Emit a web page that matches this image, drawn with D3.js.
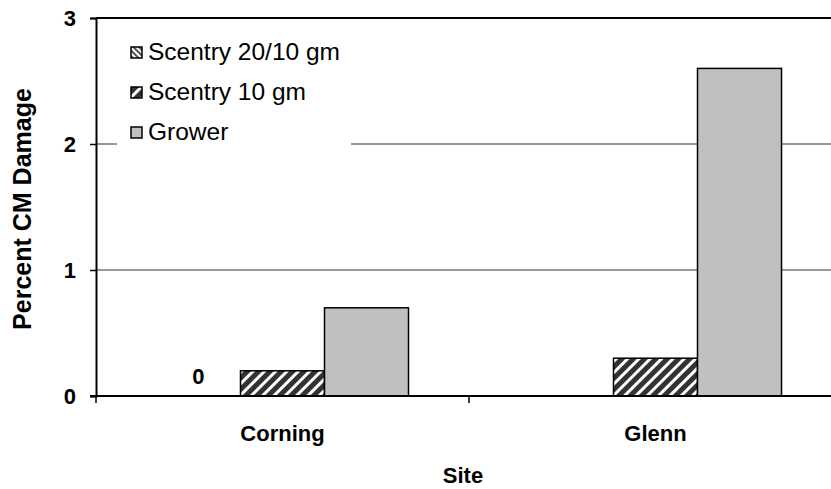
<!DOCTYPE html>
<html><head><meta charset="utf-8">
<script src="https://cdn.jsdelivr.net/npm/d3@7"></script>
<style>body{margin:0;background:#fff}svg{display:block}text{font-family:"Liberation Sans",Arial,sans-serif}</style>
</head><body>
<svg id="c" width="831" height="489"></svg>
<script>
const categories = ["Corning", "Glenn"];
const seriesNames = ["Scentry 20/10 gm", "Scentry 10 gm", "Grower"];
const scentry2010 = [0, null];
const scentry10 = [0.2, 0.3];
const grower = [0.7, 2.6];
const yTicks = [0, 1, 2, 3];
const seriesValues = [scentry2010, scentry10, grower];

const svg = d3.select("#c");
const defs = svg.append("defs");
const p1 = defs.append("pattern").attr("id","hatchFwd").attr("patternUnits","userSpaceOnUse")
  .attr("width",8).attr("height",8).attr("patternTransform","rotate(45)");
p1.append("rect").attr("width",8).attr("height",8).attr("fill","#333");
p1.append("rect").attr("x",0).attr("width",3).attr("height",8).attr("fill","#fff");
const p2 = defs.append("pattern").attr("id","hatchBack").attr("patternUnits","userSpaceOnUse")
  .attr("width",4).attr("height",4).attr("patternTransform","rotate(-45)");
p2.append("rect").attr("width",4).attr("height",4).attr("fill","#fff");
p2.append("rect").attr("width",2).attr("height",4).attr("fill","#555");
const fills = ["url(#hatchBack)", "url(#hatchFwd)", "#c0c0c0"];

const mLeft = 96, mRight = 842, mTop = 18, mBottom = 396;
const x0 = d3.scaleBand().domain(categories).range([mLeft, mRight]);
const x1 = d3.scaleBand().domain(seriesNames).range([0, x0.bandwidth()]).paddingOuter(0.72);
const y = d3.scaleLinear().domain([0, 3]).range([mBottom, mTop]);

// gridlines
svg.append("g").selectAll("line").data(yTicks.filter(d => d > 0)).join("line")
  .attr("x1", mLeft).attr("x2", 831).attr("y1", d => y(d)).attr("y2", d => y(d))
  .attr("stroke", d => d === 3 ? "#000" : "#333").attr("stroke-width", d => d === 3 ? 2 : 1);

// bars
const g = svg.append("g");
categories.forEach((c, ci) => {
  seriesNames.forEach((s, si) => {
    const v = seriesValues[si][ci];
    if (v === null || v === 0) return;
    g.append("rect").attr("x", x0(c) + x1(s)).attr("width", x1.bandwidth())
      .attr("y", y(v)).attr("height", y(0) - y(v))
      .attr("fill", fills[si]).attr("stroke", "#000").attr("stroke-width", 1.5);
  });
});
// zero label
categories.forEach((c, ci) => {
  const v = scentry2010[ci];
  if (v === 0) {
    svg.append("text").attr("x", x0(c) + x1(seriesNames[0]) + x1.bandwidth()/2)
      .attr("y", y(0) - 12).attr("text-anchor","middle")
      .attr("font-size", 22).attr("font-weight","bold").text(v);
  }
});

// y axis
const yAxis = d3.axisLeft(y).tickValues(yTicks).tickSize(6).tickPadding(14).tickFormat(d3.format("d"));
const ya = svg.append("g").attr("transform", `translate(${mLeft},0)`).call(yAxis);
ya.select(".domain").attr("stroke-width", 2);
ya.selectAll(".tick line").attr("stroke-width", 1.5);
ya.selectAll("text").attr("font-size", 22).attr("font-weight","bold").attr("font-family",'"Liberation Sans",Arial,sans-serif').attr("fill","#000");

// x axis
svg.append("line").attr("x1", mLeft - 6).attr("x2", 831).attr("y1", mBottom).attr("y2", mBottom)
  .attr("stroke","#000").attr("stroke-width",2);
const bounds = categories.map(c => x0(c)).concat([mRight]);
svg.append("g").selectAll("line").data(bounds.filter(b => b < 831)).join("line")
  .attr("x1", d => d).attr("x2", d => d).attr("y1", mBottom).attr("y2", mBottom + 7)
  .attr("stroke","#000").attr("stroke-width",1.5);
svg.append("g").selectAll("text").data(categories).join("text")
  .attr("x", d => x0(d) + x0.bandwidth()/2).attr("y", 441).attr("text-anchor","middle")
  .attr("font-size", 22).attr("font-weight","bold").text(d => d);

// titles
svg.append("text").attr("x", 463).attr("y", 483).attr("text-anchor","middle")
  .attr("font-size", 22).attr("font-weight","bold").text("Site");
svg.append("text").attr("transform","translate(31,209) rotate(-90)").attr("text-anchor","middle")
  .attr("font-size", 25).attr("font-weight","bold").text("Percent CM Damage");

// legend
const lg = svg.append("g");
lg.append("rect").attr("x",117).attr("y",28).attr("width",234).attr("height",130).attr("fill","#fff");
seriesNames.forEach((s, i) => {
  const yy = 52 + i * 40;
  lg.append("rect").attr("x",131).attr("y",yy - 5).attr("width",11).attr("height",11)
    .attr("fill", fills[i]).attr("stroke","#000").attr("stroke-width",1.5);
  lg.append("text").attr("x",148).attr("y",yy + 8).attr("font-size",24.5).text(s);
});
</script>
</body></html>
